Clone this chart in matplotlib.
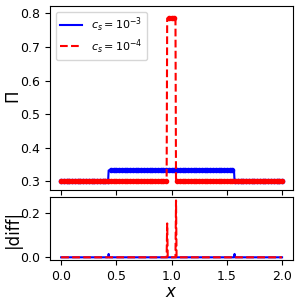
import matplotlib
matplotlib.use("Agg")
import matplotlib.pyplot as plt
import numpy as np

# step profiles
x_min, x_max = 0.0, 2.0
blue_edges = [0.43, 1.57]
blue_levels = [0.30, 0.333, 0.30]
red_edges = [0.96, 1.04]
red_levels = [0.30, 0.785, 0.30]

# |diff| spikes
blue_spike_x = [0.43, 1.57]
blue_spike_h = [0.015, 0.015]
red_spike_x = [0.96, 1.04]
red_spike_h = [0.152, 0.255]

x = np.linspace(x_min, x_max, 401)


def step_profile(edges, levels):
    idx = np.searchsorted(edges, x, side='right')
    return np.array(levels)[idx]


def spikes(xs, hs):
    d = np.zeros_like(x)
    for xs_i, h in zip(xs, hs):
        d[np.argmin(np.abs(x - xs_i))] = h
    return d


pi_blue = step_profile(blue_edges, blue_levels)
pi_red = step_profile(red_edges, red_levels)
diff_blue = spikes(blue_spike_x, blue_spike_h)
diff_red = spikes(red_spike_x, red_spike_h)

fig = plt.figure(figsize=(3, 3), dpi=100)
ax1 = fig.add_axes([0.167, 0.367, 0.81, 0.613])
ax2 = fig.add_axes([0.167, 0.133, 0.81, 0.21])

# top panel: profiles, lines labelled, dots drawn separately (legend has no dots)
ax1.plot(x, pi_blue, color='b', lw=1.5, label=r'$c_s=10^{-3}$')
ax1.plot(x[::5], pi_blue[::5], 'o', color='b', ms=3)
ax1.plot(x, pi_red, color='r', ls='--', lw=1.5, label=r'$c_s=10^{-4}$')
ax1.plot(x[::5], pi_red[::5], 'o', color='r', ms=3)
ax1.set_xlim(-0.1, 2.1)
ax1.set_ylim(0.275, 0.822)
ax1.set_yticks([0.3, 0.4, 0.5, 0.6, 0.7, 0.8])
ax1.set_xticks([0.0, 0.5, 1.0, 1.5, 2.0])
ax1.set_xticklabels([])
ax1.tick_params(labelsize=9)
ax1.set_ylabel(r'$\Pi$', fontsize=12)
ax1.yaxis.set_label_coords(-0.11, 0.5)
ax1.legend(loc='upper left', fontsize=8, handlelength=2.0, labelspacing=0.25)

# bottom panel: absolute difference
ax2.plot(x, diff_blue, color='b', lw=1.5)
ax2.plot(x, diff_red, color='r', ls='--', lw=1.5)
ax2.set_xlim(-0.1, 2.1)
ax2.set_ylim(-0.0125, 0.27)
ax2.set_yticks([0.0, 0.2])
ax2.set_xticks([0.0, 0.5, 1.0, 1.5, 2.0])
ax2.tick_params(labelsize=9)
ax2.set_ylabel('|diff|', fontsize=12)
ax2.yaxis.set_label_coords(-0.115, 0.5)
ax2.set_xlabel(r'$x$', fontsize=12)
ax2.xaxis.set_label_coords(0.5, -0.36)

fig.savefig('out.png', dpi=100)
